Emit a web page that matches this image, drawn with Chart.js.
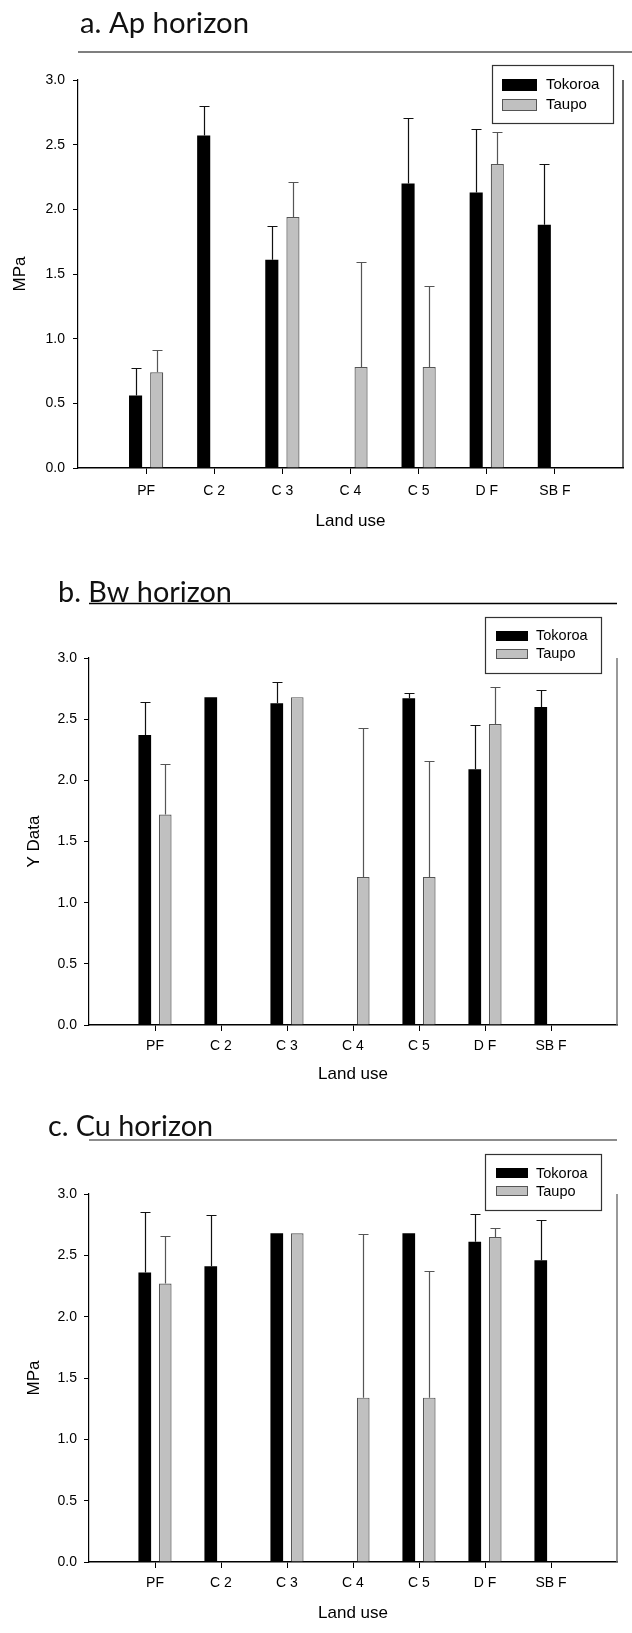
<!DOCTYPE html>
<html>
<head>
<meta charset="utf-8">
<script src="https://cdn.jsdelivr.net/npm/chart.js@4.4.1/dist/chart.umd.min.js"></script>
<style>
html,body{margin:0;padding:0;background:#fff;}
body{width:632px;height:1633px;position:relative;overflow:hidden;}
.panel{position:absolute;left:0;width:632px;}
.panel canvas{display:block;}
</style>
</head>
<body>
<div class="panel" id="wrapA" style="top:0;height:545px"><canvas id="chartA"></canvas></div>
<div class="panel" id="wrapB" style="top:545px;height:545px"><canvas id="chartB"></canvas></div>
<div class="panel" id="wrapC" style="top:1090px;height:543px"><canvas id="chartC"></canvas></div>
<script>
// ---------------- data ----------------
const categories = ['PF', 'C 2', 'C 3', 'C 4', 'C 5', 'D F', 'SB F'];
const seriesNames = ['Tokoroa', 'Taupo'];
const yTickValues = [0, 0.5, 1.0, 1.5, 2.0, 2.5, 3.0];

// a. Ap horizon
const apTokoroa    = [0.56, 2.57, 1.61, null, 2.20, 2.13, 1.88];
const apTokoroaErr = [0.21, 0.23, 0.26, null, 0.51, 0.49, 0.47];
const apTaupo      = [0.74, null, 1.94, 0.78, 0.78, 2.35, null];
const apTaupoErr   = [0.17, null, 0.27, 0.81, 0.63, 0.25, null];

// b. Bw horizon
const bwTokoroa    = [2.37, 2.68, 2.63, null, 2.67, 2.09, 2.60];
const bwTokoroaErr = [0.27, null, 0.17, null, 0.04, 0.36, 0.14];
const bwTaupo      = [1.72, null, 2.68, 1.21, 1.21, 2.46, null];
const bwTaupoErr   = [0.41, null, null, 1.22, 0.95, 0.30, null];

// c. Cu horizon
const cuTokoroa    = [2.36, 2.41, 2.68, null, 2.68, 2.61, 2.46];
const cuTokoroaErr = [0.49, 0.42, null, null, null, 0.23, 0.33];
const cuTaupo      = [2.27, null, 2.68, 1.34, 1.34, 2.65, null];
const cuTaupoErr   = [0.39, null, null, 1.33, 1.03, 0.07, null];

// ---------------- styling / layout ----------------
Chart.defaults.font.family = "'Liberation Sans', Arial, sans-serif";
Chart.defaults.color = '#000';
Chart.defaults.animation = false;

const TITLE_FONT = "Lato, 'Open Sans', sans-serif";

function pad(arr) { return [null].concat(arr, [null]); }

const panels = [
  {
    canvas: 'chartA', width: 632, height: 545,
    title: 'a. Ap horizon', titleX: 80, titleBase: 33, titleW: 169,
    rule: { y: 52, x1: 78, x2: 632, color: '#555', w: 1.5 },
    yTitle: 'MPa', yTitlePad: 10.5, axisX: 78, chartTop: 80, chartRight: 630, xHeight: 77,
    xTickPad: 9, yTickPad: 8, xTitlePad: 13, tickFont: 14, titleFont: 17,
    rightLine: { color: '#000', w: 1.2 },
    legend: { x: 492, y: 65, w: 121, h: 58, sx: 502, sw: 35, sh: 12, sy: [79, 99], tx: 546, ty: [85, 105], font: 15 },
    tok: apTokoroa, tokErr: apTokoroaErr, tau: apTaupo, tauErr: apTaupoErr
  },
  {
    canvas: 'chartB', width: 632, height: 545,
    title: 'b. Bw horizon', titleX: 58, titleBase: 57, titleW: 174,
    rule: { y: 58.5, x1: 89, x2: 617, color: '#000', w: 1.5 },
    yTitle: 'Y Data', yTitlePad: 24.5, axisX: 89, chartTop: 113, chartRight: 617, xHeight: 65,
    xTickPad: 7, yTickPad: 7, xTitlePad: 5.5, tickFont: 14, titleFont: 17,
    rightLine: { color: '#777', w: 1.5 },
    legend: { x: 485, y: 72, w: 116, h: 56, sx: 496, sw: 32, sh: 10, sy: [86, 104], tx: 536, ty: [91, 109], font: 14.5 },
    tok: bwTokoroa, tokErr: bwTokoroaErr, tau: bwTaupo, tauErr: bwTaupoErr
  },
  {
    canvas: 'chartC', width: 632, height: 543,
    title: 'c. Cu horizon', titleX: 48, titleBase: 46, titleW: 165,
    rule: { y: 50, x1: 89, x2: 617, color: '#666', w: 1.5 },
    yTitle: 'MPa', yTitlePad: 24.5, axisX: 89, chartTop: 104, chartRight: 617, xHeight: 71,
    xTickPad: 7, yTickPad: 7, xTitlePad: 9.5, tickFont: 14, titleFont: 17,
    rightLine: { color: '#777', w: 1.5 },
    legend: { x: 485, y: 64, w: 116, h: 56, sx: 496, sw: 32, sh: 10, sy: [78, 96], tx: 536, ty: [83.5, 102], font: 14.5 },
    tok: cuTokoroa, tokErr: cuTokoroaErr, tau: cuTaupo, tauErr: cuTaupoErr
  }
];

const decorPlugin = {
  id: 'decor',
  afterDatasetsDraw(chart, args, o) {
    const ctx = chart.ctx;
    const ys = chart.scales.y;
    // error bars (upper only, with cap)
    chart.data.datasets.forEach((ds, di) => {
      const meta = chart.getDatasetMeta(di);
      meta.data.forEach((bar, i) => {
        const v = ds.data[i], e = ds.errors[i];
        if (v == null || e == null) return;
        const x = Math.round(bar.x) + 0.5;
        const y0 = ys.getPixelForValue(v);
        const y1 = Math.round(ys.getPixelForValue(v + e)) + 0.5;
        ctx.save();
        ctx.strokeStyle = ds.errorColor;
        ctx.lineWidth = 1.2;
        ctx.beginPath();
        ctx.moveTo(x, y0); ctx.lineTo(x, y1);
        ctx.moveTo(x - 5, y1); ctx.lineTo(x + 5, y1);
        ctx.stroke();
        ctx.restore();
      });
    });
  },
  afterDraw(chart, args, o) {
    const p = o.panel;
    const ctx = chart.ctx;
    const ca = chart.chartArea;
    ctx.save();
    // right frame line
    ctx.strokeStyle = p.rightLine.color;
    ctx.lineWidth = p.rightLine.w;
    ctx.beginPath();
    ctx.moveTo(ca.right, ca.top); ctx.lineTo(ca.right, ca.bottom);
    ctx.stroke();
    // panel title
    ctx.font = '28px ' + TITLE_FONT;
    const mw = ctx.measureText(p.title).width;
    const fs = 28 * p.titleW / mw;
    ctx.font = fs.toFixed(2) + 'px ' + TITLE_FONT;
    ctx.fillStyle = '#111';
    ctx.textBaseline = 'alphabetic';
    ctx.textAlign = 'left';
    ctx.fillText(p.title, p.titleX, p.titleBase);
    // rule under title
    ctx.strokeStyle = p.rule.color;
    ctx.lineWidth = p.rule.w;
    ctx.beginPath();
    ctx.moveTo(p.rule.x1, p.rule.y); ctx.lineTo(p.rule.x2, p.rule.y);
    ctx.stroke();
    // legend
    const L = p.legend;
    ctx.strokeStyle = '#333';
    ctx.lineWidth = 1.2;
    ctx.fillStyle = '#fff';
    ctx.fillRect(L.x, L.y, L.w, L.h);
    ctx.strokeRect(L.x + 0.5, L.y + 0.5, L.w, L.h);
    chart.data.datasets.forEach((ds, di) => {
      ctx.fillStyle = ds.backgroundColor;
      ctx.fillRect(L.sx, L.sy[di], L.sw, L.sh);
      ctx.strokeStyle = ds.borderWidth ? ds.borderColor : ds.backgroundColor;
      ctx.lineWidth = 1;
      ctx.strokeRect(L.sx + 0.5, L.sy[di] + 0.5, L.sw - 1, L.sh - 1);
      ctx.fillStyle = '#000';
      ctx.font = L.font + "px 'Liberation Sans', Arial, sans-serif";
      ctx.textBaseline = 'middle';
      ctx.fillText(ds.label, L.tx, L.ty[di]);
    });
    ctx.restore();
  }
};

panels.forEach(p => {
  const cv = document.getElementById(p.canvas);
  cv.width = p.width; cv.height = p.height;
  cv.style.width = p.width + 'px'; cv.style.height = p.height + 'px';
  new Chart(cv, {
    type: 'bar',
    data: {
      labels: [''].concat(categories, ['']),
      datasets: [
        { label: seriesNames[0], data: pad(p.tok), errors: pad(p.tokErr),
          backgroundColor: '#000000', borderColor: '#000000', borderWidth: 0, errorColor: '#111' },
        { label: seriesNames[1], data: pad(p.tau), errors: pad(p.tauErr),
          backgroundColor: '#c0c0c0', borderColor: '#555555', borderWidth: 1.2, errorColor: '#555' }
      ]
    },
    options: {
      responsive: false,
      maintainAspectRatio: false,
      animation: false,
      events: [],
      categoryPercentage: 0.62,
      barPercentage: 0.62,
      layout: { padding: { top: p.chartTop, right: p.width - p.chartRight, left: 0, bottom: 0 } },
      plugins: {
        legend: { display: false },
        tooltip: { enabled: false },
        title: { display: false },
        decor: { panel: p }
      },
      scales: {
        x: {
          type: 'category',
          offset: false,
          grid: {
            display: true, drawOnChartArea: false, drawTicks: true, tickLength: 6, offset: false,
            color: '#000',
            tickColor: c => (c.index === 0 || c.index === categories.length + 1) ? 'rgba(0,0,0,0)' : '#000',
            tickWidth: 1
          },
          border: { display: true, color: '#000', width: 1.5 },
          ticks: { autoSkip: false, maxRotation: 0, minRotation: 0, padding: p.xTickPad,
                   font: { size: p.tickFont }, color: '#000' },
          title: { display: true, text: 'Land use', font: { size: p.titleFont },
                   color: '#000', padding: { top: 0, bottom: p.xTitlePad } },
          afterFit: s => { s.height = p.xHeight; }
        },
        y: {
          type: 'linear',
          min: 0, max: 3,
          afterBuildTicks: s => { s.ticks = yTickValues.map(v => ({ value: v })); },
          grid: { display: true, drawOnChartArea: false, drawTicks: true, tickLength: 5, color: '#000', tickWidth: 1 },
          border: { display: true, color: '#000', width: 1.2 },
          ticks: { padding: p.yTickPad, font: { size: p.tickFont }, color: '#000',
                   callback: v => Number(v).toFixed(1) },
          title: { display: true, text: p.yTitle, font: { size: p.titleFont },
                   color: '#000', padding: { top: p.yTitlePad, bottom: 0 } },
          afterFit: s => { s.width = p.axisX; }
        }
      }
    },
    plugins: [decorPlugin]
  });
});
</script>
</body>
</html>
